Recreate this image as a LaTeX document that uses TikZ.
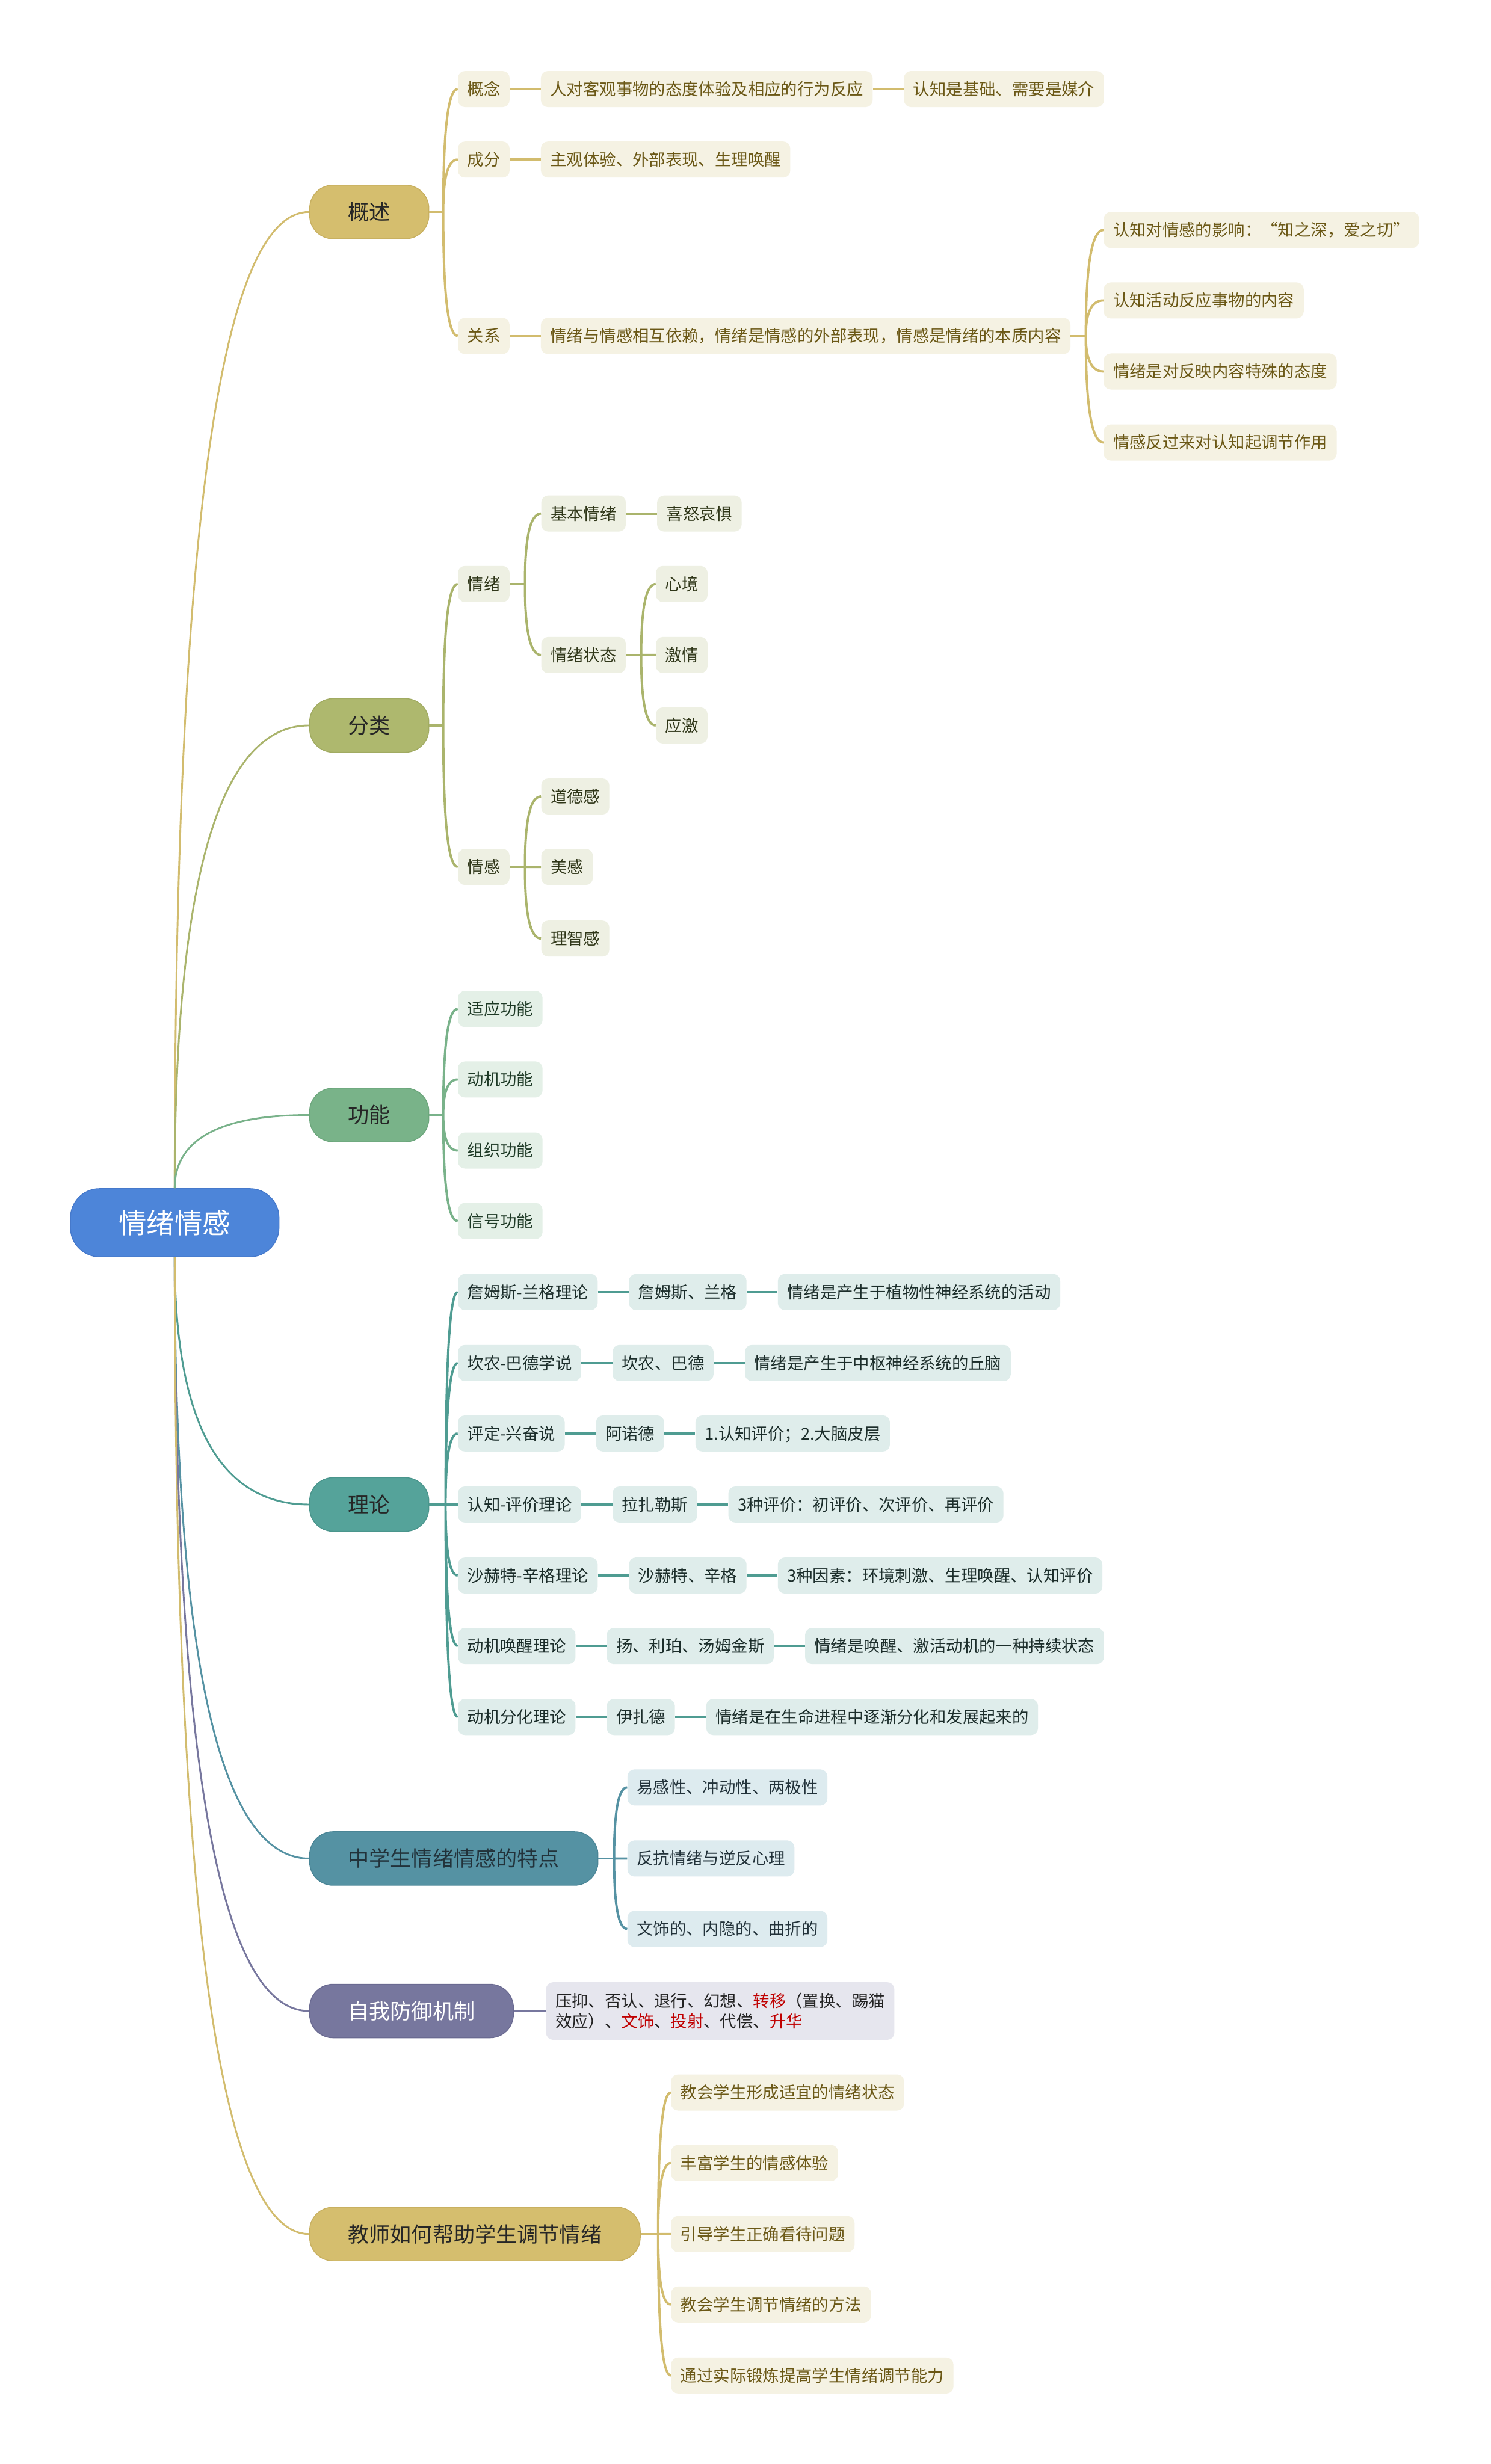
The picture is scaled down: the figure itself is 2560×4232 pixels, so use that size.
\documentclass[tikz,border=0pt]{standalone}
\usepackage{fontspec}
\setmainfont{Noto Sans CJK SC}
\usetikzlibrary{positioning, calc}

% colours of the branches
\definecolor{rootblue}{HTML}{4D85D9}
\definecolor{rootrim}{HTML}{4679CB}
\definecolor{goldmain}{HTML}{D5BE6E}
\definecolor{goldrim}{HTML}{C8B060}
\definecolor{goldline}{HTML}{D2BC6E}
\definecolor{goldfill}{HTML}{F5F2E3}
\definecolor{goldtext}{HTML}{6B5816}
\definecolor{olivemain}{HTML}{AEB86E}
\definecolor{oliverim}{HTML}{A1AB62}
\definecolor{oliveline}{HTML}{AAB46C}
\definecolor{olivefill}{HTML}{EEF0E3}
\definecolor{olivetext}{HTML}{2F3618}
\definecolor{sagemain}{HTML}{79B389}
\definecolor{sagerim}{HTML}{6CA67C}
\definecolor{sageline}{HTML}{79B28A}
\definecolor{sagefill}{HTML}{E4F0E7}
\definecolor{sagetext}{HTML}{1E3A26}
\definecolor{tealmain}{HTML}{55A39A}
\definecolor{tealrim}{HTML}{4A958C}
\definecolor{tealline}{HTML}{4F9C92}
\definecolor{tealfill}{HTML}{DFEDEB}
\definecolor{tealtext}{HTML}{1C2E2B}
\definecolor{petrolmain}{HTML}{5592A3}
\definecolor{petrolrim}{HTML}{4A8596}
\definecolor{petrolline}{HTML}{5592A3}
\definecolor{petrolfill}{HTML}{DDEBEF}
\definecolor{petroltext}{HTML}{22323A}
\definecolor{plummain}{HTML}{77779E}
\definecolor{plumrim}{HTML}{6A6A91}
\definecolor{plumline}{HTML}{77779E}
\definecolor{plumfill}{HTML}{E6E6EE}
\definecolor{plumtext}{HTML}{222222}
\definecolor{hotword}{HTML}{C00000}

\begin{document}
\begin{tikzpicture}[
    % GLOBAL CFG
    x=0.5pt, y=-0.5pt,
    % Styles
    rootnode/.style={
        rectangle,
        rounded corners=25pt,
        draw=rootrim,
        line width=0.75pt,
        fill=rootblue,
        text=white,
        minimum height=58.5pt,
        inner xsep=41.5pt,
        font=\fontsize{24pt}{28pt}\selectfont,
        text height=21.1pt,
        text depth=2.9pt,
    },
    mainnode/.style={
        rectangle,
        rounded corners=20pt,
        line width=0.75pt,
        anchor=west,
        minimum height=46pt,
        inner xsep=33pt,
        font=\fontsize{18.15pt}{22pt}\selectfont,
        text height=16pt,
        text depth=2.2pt,
    },
    leafbox/.style={
        rectangle,
        rounded corners=6pt,
        anchor=west,
        inner xsep=8pt,
        font=\fontsize{14.15pt}{17.5pt}\selectfont,
    },
    leaf/.style={
        leafbox,
        minimum height=31pt,
        text height=12.45pt,
        text depth=1.7pt,
    },
    BranchGold/.style={mainnode, fill=goldmain, draw=goldrim, text=black!85},
    BranchOlive/.style={mainnode, fill=olivemain, draw=oliverim, text=black!85},
    BranchSage/.style={mainnode, fill=sagemain, draw=sagerim, text=black!85},
    BranchTeal/.style={mainnode, fill=tealmain, draw=tealrim, text=black!85},
    BranchPetrol/.style={mainnode, fill=petrolmain, draw=petrolrim, text=petroltext},
    BranchPlum/.style={mainnode, fill=plummain, draw=plumrim, text=white},
    LeafGold/.style={leaf, fill=goldfill, text=goldtext},
    LeafOlive/.style={leaf, fill=olivefill, text=olivetext},
    LeafSage/.style={leaf, fill=sagefill, text=sagetext},
    LeafTeal/.style={leaf, fill=tealfill, text=tealtext},
    LeafPetrol/.style={leaf, fill=petrolfill, text=petroltext},
    LeafPlum/.style={leafbox, fill=plumfill, text=plumtext, align=left, minimum height=49.5pt},
    RootLine/.style={line width=1.5pt},
    LineGold/.style={draw=goldline, line width=2pt},
    LineOlive/.style={draw=oliveline, line width=2pt},
    LineSage/.style={draw=sageline, line width=2pt},
    LineTeal/.style={draw=tealline, line width=2pt},
    LinePetrol/.style={draw=petrolline, line width=2pt},
    LinePlum/.style={draw=plumline, line width=2pt},
    elbow/.style={
        to path={.. controls ($(\tikztostart)!0.667!(\tikztostart |- \tikztotarget)$)
            and ($(\tikztotarget)!0.667!(\tikztostart |- \tikztotarget)$) .. (\tikztotarget)}
    },
]

% Canvas
\fill [white] (0,0) rectangle (2560,4232);
\useasboundingbox (0,0) rectangle (2560,4232);

% Root and main branches
    \node [rootnode] (root) at (300,2100) {情绪情感};

    \node [BranchGold]   (gaishu)   at (531,364)  {概述};
    \node [BranchOlive]  (fenlei)   at (531,1246) {分类};
    \node [BranchSage]   (gongneng) at (531,1915) {功能};
    \node [BranchTeal]   (lilun)    at (531,2584) {理论};
    \node [BranchPetrol] (tedian)   at (531,3192) {中学生情绪情感的特点};
    \node [BranchPlum]   (fangyu)   at (531,3454) {自我防御机制};
    \node [BranchGold]   (jiaoshi)  at (531,3837) {教师如何帮助学生调节情绪};

% 概述
    \node [LeafGold] (gainian) at (786,153) {概念};
    \node [LeafGold, right=26.5pt of gainian] (dingyi) {人对客观事物的态度体验及相应的行为反应};
    \node [LeafGold, right=26.5pt of dingyi] (jichu) {认知是基础、需要是媒介};
    \node [LeafGold] (chengfen) at (786,274) {成分};
    \node [LeafGold, right=26.5pt of chengfen] (zucheng) {主观体验、外部表现、生理唤醒};
    \node [LeafGold] (guanxi) at (786,577) {关系};
    \node [LeafGold, right=26.5pt of guanxi] (yilai) {情绪与情感相互依赖，情绪是情感的外部表现，情感是情绪的本质内容};
    \node [LeafGold] (gx1) at (1895,395) {认知对情感的影响：“知之深，爱之切”};
    \node [LeafGold] (gx2) at (1895,516) {认知活动反应事物的内容};
    \node [LeafGold] (gx3) at (1895,638) {情绪是对反映内容特殊的态度};
    \node [LeafGold] (gx4) at (1895,760) {情感反过来对认知起调节作用};

% 分类
    \node [LeafOlive] (qingxu) at (786,1003) {情绪};
    \node [LeafOlive] (jiben) at (929,882) {基本情绪};
    \node [LeafOlive, right=26.5pt of jiben] (xinu) {喜怒哀惧};
    \node [LeafOlive] (zhuangtai) at (929,1125) {情绪状态};
    \node [LeafOlive] (xinjing) at (1126,1003) {心境};
    \node [LeafOlive] (jiqing) at (1126,1125) {激情};
    \node [LeafOlive] (yingji) at (1126,1246) {应激};
    \node [LeafOlive] (qinggan) at (786,1489) {情感};
    \node [LeafOlive] (daode) at (929,1368) {道德感};
    \node [LeafOlive] (meigan) at (929,1489) {美感};
    \node [LeafOlive] (lizhi) at (929,1612) {理智感};

% 功能
    \node [LeafSage] (shiying) at (786,1733) {适应功能};
    \node [LeafSage] (dongji) at (786,1854) {动机功能};
    \node [LeafSage] (zuzhi) at (786,1976) {组织功能};
    \node [LeafSage] (xinhao) at (786,2097) {信号功能};

% 理论
    \node [LeafTeal] (ll1) at (786,2219) {詹姆斯-兰格理论};
    \node [LeafTeal, right=26.5pt of ll1] (ren1) {詹姆斯、兰格};
    \node [LeafTeal, right=26.5pt of ren1] (yi1) {情绪是产生于植物性神经系统的活动};
    \node [LeafTeal] (ll2) at (786,2341) {坎农-巴德学说};
    \node [LeafTeal, right=26.5pt of ll2] (ren2) {坎农、巴德};
    \node [LeafTeal, right=26.5pt of ren2] (yi2) {情绪是产生于中枢神经系统的丘脑};
    \node [LeafTeal] (ll3) at (786,2462) {评定-兴奋说};
    \node [LeafTeal, right=26.5pt of ll3] (ren3) {阿诺德};
    \node [LeafTeal, right=26.5pt of ren3] (yi3) {1.认知评价；2.大脑皮层};
    \node [LeafTeal] (ll4) at (786,2584) {认知-评价理论};
    \node [LeafTeal, right=26.5pt of ll4] (ren4) {拉扎勒斯};
    \node [LeafTeal, right=26.5pt of ren4] (yi4) {3种评价：初评价、次评价、再评价};
    \node [LeafTeal] (ll5) at (786,2706) {沙赫特-辛格理论};
    \node [LeafTeal, right=26.5pt of ll5] (ren5) {沙赫特、辛格};
    \node [LeafTeal, right=26.5pt of ren5] (yi5) {3种因素：环境刺激、生理唤醒、认知评价};
    \node [LeafTeal] (ll6) at (786,2827) {动机唤醒理论};
    \node [LeafTeal, right=26.5pt of ll6] (ren6) {扬、利珀、汤姆金斯};
    \node [LeafTeal, right=26.5pt of ren6] (yi6) {情绪是唤醒、激活动机的一种持续状态};
    \node [LeafTeal] (ll7) at (786,2949) {动机分化理论};
    \node [LeafTeal, right=26.5pt of ll7] (ren7) {伊扎德};
    \node [LeafTeal, right=26.5pt of ren7] (yi7) {情绪是在生命进程中逐渐分化和发展起来的};

% 中学生情绪情感的特点
    \node [LeafPetrol] (td1) at (1077,3070) {易感性、冲动性、两极性};
    \node [LeafPetrol] (td2) at (1077,3192) {反抗情绪与逆反心理};
    \node [LeafPetrol] (td3) at (1077,3313) {文饰的、内隐的、曲折的};

% 自我防御机制
    \node [LeafPlum, right=27.5pt of fangyu] (jizhi) {压抑、否认、退行、幻想、\textcolor{hotword}{转移}（置换、踢猫\\效应）、\textcolor{hotword}{文饰}、\textcolor{hotword}{投射}、代偿、\textcolor{hotword}{升华}};

% 教师如何帮助学生调节情绪
    \node [LeafGold] (js1) at (1152,3594) {教会学生形成适宜的情绪状态};
    \node [LeafGold] (js2) at (1152,3715) {丰富学生的情感体验};
    \node [LeafGold] (js3) at (1152,3837) {引导学生正确看待问题};
    \node [LeafGold] (js4) at (1152,3958) {教会学生调节情绪的方法};
    \node [LeafGold] (js5) at (1152,4080) {通过实际锻炼提高学生情绪调节能力};

% Connecting all.
    % From the root
    \draw [RootLine, goldline] (root.north) to[elbow] (gaishu.west);
    \draw [RootLine, oliveline] (root.north) to[elbow] (fenlei.west);
    \draw [RootLine, sageline] (root.north) to[elbow] (gongneng.west);
    \draw [RootLine, tealline] (root.south) to[elbow] (lilun.west);
    \draw [RootLine, petrolline] (root.south) to[elbow] (tedian.west);
    \draw [RootLine, plumline] (root.south) to[elbow] (fangyu.west);
    \draw [RootLine, goldline] (root.south) to[elbow] (jiaoshi.west);

    % 概述
    \coordinate (gsT) at ($(gaishu.east)+(24,0)$);
    \draw [LineGold] (gaishu.east) -- (gsT);
    \draw [LineGold] (gsT) to[elbow] (gainian.west) (gsT) to[elbow] (chengfen.west) (gsT) to[elbow] (guanxi.west);
    \draw [LineGold] (gainian) -- (dingyi) -- (jichu);
    \draw [LineGold] (chengfen) -- (zucheng);
    \draw [LineGold] (guanxi) -- (yilai);
    \coordinate (ylT) at ($(yilai.east)+(26,0)$);
    \draw [LineGold] (yilai.east) -- (ylT);
    \draw [LineGold] (ylT) to[elbow] (gx1.west) (ylT) to[elbow] (gx2.west) (ylT) to[elbow] (gx3.west) (ylT) to[elbow] (gx4.west);

    % 分类
    \coordinate (flT) at ($(fenlei.east)+(24,0)$);
    \draw [LineOlive] (fenlei.east) -- (flT);
    \draw [LineOlive] (flT) to[elbow] (qingxu.west) (flT) to[elbow] (qinggan.west);
    \coordinate (qxT) at ($(qingxu.east)+(26,0)$);
    \draw [LineOlive] (qingxu.east) -- (qxT);
    \draw [LineOlive] (qxT) to[elbow] (jiben.west) (qxT) to[elbow] (zhuangtai.west);
    \draw [LineOlive] (jiben) -- (xinu);
    \coordinate (ztT) at ($(zhuangtai.east)+(26,0)$);
    \draw [LineOlive] (zhuangtai.east) -- (ztT);
    \draw [LineOlive] (ztT) to[elbow] (xinjing.west) (ztT) to[elbow] (jiqing.west) (ztT) to[elbow] (yingji.west);
    \coordinate (qgT) at ($(qinggan.east)+(26,0)$);
    \draw [LineOlive] (qinggan.east) -- (qgT);
    \draw [LineOlive] (qgT) to[elbow] (daode.west) (qgT) to[elbow] (meigan.west) (qgT) to[elbow] (lizhi.west);

    % 功能
    \coordinate (gnT) at ($(gongneng.east)+(24,0)$);
    \draw [LineSage] (gongneng.east) -- (gnT);
    \draw [LineSage] (gnT) to[elbow] (shiying.west) (gnT) to[elbow] (dongji.west) (gnT) to[elbow] (zuzhi.west) (gnT) to[elbow] (xinhao.west);

    % 理论
    \coordinate (llT) at ($(lilun.east)+(28,0)$);
    \draw [LineTeal] (lilun.east) -- (llT);
    \draw [LineTeal] (llT) to[elbow] (ll1.west) (llT) to[elbow] (ll2.west) (llT) to[elbow] (ll3.west) (llT) to[elbow] (ll4.west) (llT) to[elbow] (ll5.west) (llT) to[elbow] (ll6.west) (llT) to[elbow] (ll7.west);
    \draw [LineTeal] (ll1) -- (ren1) -- (yi1);
    \draw [LineTeal] (ll2) -- (ren2) -- (yi2);
    \draw [LineTeal] (ll3) -- (ren3) -- (yi3);
    \draw [LineTeal] (ll4) -- (ren4) -- (yi4);
    \draw [LineTeal] (ll5) -- (ren5) -- (yi5);
    \draw [LineTeal] (ll6) -- (ren6) -- (yi6);
    \draw [LineTeal] (ll7) -- (ren7) -- (yi7);

    % 中学生情绪情感的特点
    \coordinate (tdT) at ($(tedian.east)+(27,0)$);
    \draw [LinePetrol] (tedian.east) -- (tdT);
    \draw [LinePetrol] (tdT) to[elbow] (td1.west) (tdT) to[elbow] (td2.west) (tdT) to[elbow] (td3.west);

    % 自我防御机制
    \draw [LinePlum] (fangyu) -- (jizhi);

    % 教师如何帮助学生调节情绪
    \coordinate (jsT) at ($(jiaoshi.east)+(30,0)$);
    \draw [LineGold] (jiaoshi.east) -- (jsT);
    \draw [LineGold] (jsT) to[elbow] (js1.west) (jsT) to[elbow] (js2.west) (jsT) to[elbow] (js3.west) (jsT) to[elbow] (js4.west) (jsT) to[elbow] (js5.west);

\end{tikzpicture}
\end{document}
